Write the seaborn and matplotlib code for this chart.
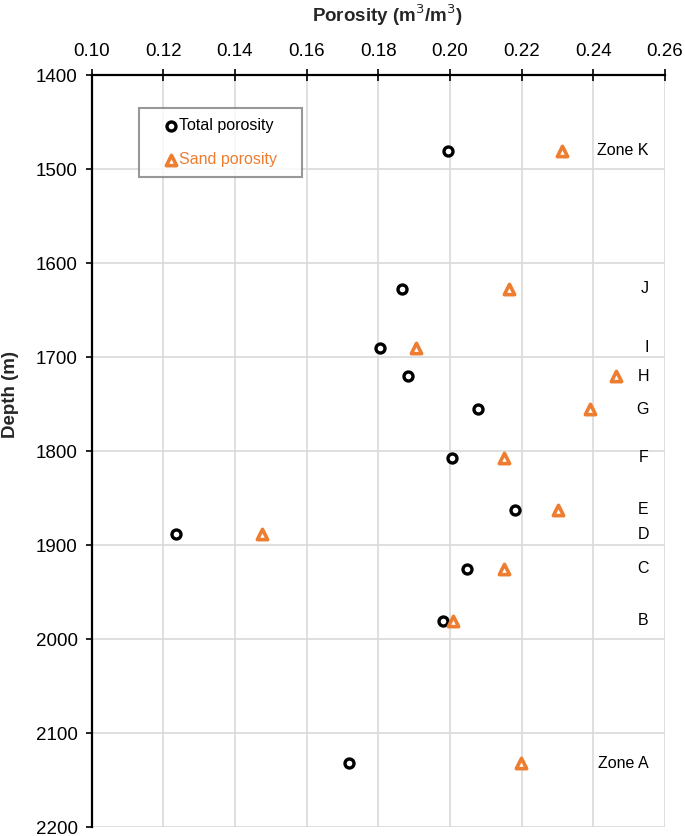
import numpy as np
import pandas as pd
import matplotlib
matplotlib.use("Agg")
import matplotlib.pyplot as plt
import seaborn as sns

zones = ["Zone K", "J", "I", "H", "G", "F", "E", "D", "C", "B", "Zone A"]
depth = [1480, 1627, 1690, 1720, 1755, 1807, 1862, 1888, 1925, 1980, 2132]
total_porosity = [0.1995, 0.1865, 0.1805, 0.1884, 0.2079, 0.2006, 0.2181, 0.1237, 0.2048, 0.1981, 0.1717]
sand_porosity = [0.2314, 0.2165, 0.1905, 0.2463, 0.2391, 0.2150, 0.2301, 0.1476, 0.2150, 0.2008, 0.2197]

x_ticks = [0.10, 0.12, 0.14, 0.16, 0.18, 0.20, 0.22, 0.24, 0.26]
y_ticks = [1400, 1500, 1600, 1700, 1800, 1900, 2000, 2100, 2200]

orange = "#ED7D31"

df = pd.DataFrame({
    "zone": zones,
    "depth": depth,
    "total": total_porosity,
    "sand": sand_porosity,
})

sns.set_style("white")
plt.rcParams["font.family"] = ["Liberation Sans", "DejaVu Sans"]

fig = plt.figure(figsize=(6.85, 8.36), dpi=100)
ax = fig.add_axes([0.1336, 0.0104, 0.8372, 0.8995])

sns.scatterplot(
    data=df, x="total", y="depth", ax=ax,
    marker="o", s=42, facecolor="white", edgecolor="black",
    linewidth=2.4, label="Total porosity", zorder=3
)
sns.scatterplot(
    data=df, x="sand", y="depth", ax=ax,
    marker="^", s=55, facecolor="white", edgecolor=orange,
    linewidth=2.6, label="Sand porosity", zorder=3
)

for _, row in df.iterrows():
    ax.text(0.2555, row["depth"], row["zone"], ha="right", va="center",
            fontsize=11.5, color="black")

ax.set_xlim(0.10, 0.26)
ax.set_ylim(2200, 1400)
ax.set_xticks(x_ticks)
ax.set_yticks(y_ticks)
ax.set_xticklabels([f"{v:.2f}" for v in x_ticks])

ax.xaxis.tick_top()
ax.xaxis.set_label_position("top")
ax.set_xlabel("Porosity (m$^3$/m$^3$)", fontsize=13.5, fontweight="bold")
ax.xaxis.set_label_coords(0.516, 1.080)
ax.xaxis.label.set_va("center")
ax.set_ylabel("Depth (m)", fontsize=13.5, fontweight="bold")
ax.yaxis.set_label_coords(-0.141, 0.575)
ax.yaxis.label.set_va("center")

ax.grid(True, color="#d9d9d9", linewidth=1.2)
ax.set_axisbelow(True)

for side in ["right", "bottom"]:
    ax.spines[side].set_visible(False)
for side in ["top", "left"]:
    ax.spines[side].set_color("black")
    ax.spines[side].set_linewidth(1.6)

ax.tick_params(axis="x", which="major", top=True, bottom=False, direction="inout",
               length=8, width=1.2, labelsize=13.5, pad=7, colors="black")
ax.tick_params(axis="y", which="major", left=True, direction="out",
               length=4, width=1.2, labelsize=13.5, pad=6, colors="black")

leg = ax.legend(loc="upper left", bbox_to_anchor=(0.083, 0.5, 0.284, 0.4565),
                mode="expand", frameon=True, fancybox=False, edgecolor="#7f7f7f",
                fontsize=11.5, handlelength=2.7, handletextpad=-0.84,
                borderpad=0.65, labelspacing=1.15, borderaxespad=0)
leg.get_frame().set_linewidth(1.5)
for txt, col in zip(leg.get_texts(), ["black", orange]):
    txt.set_color(col)

fig.savefig("out.png", dpi=100)
